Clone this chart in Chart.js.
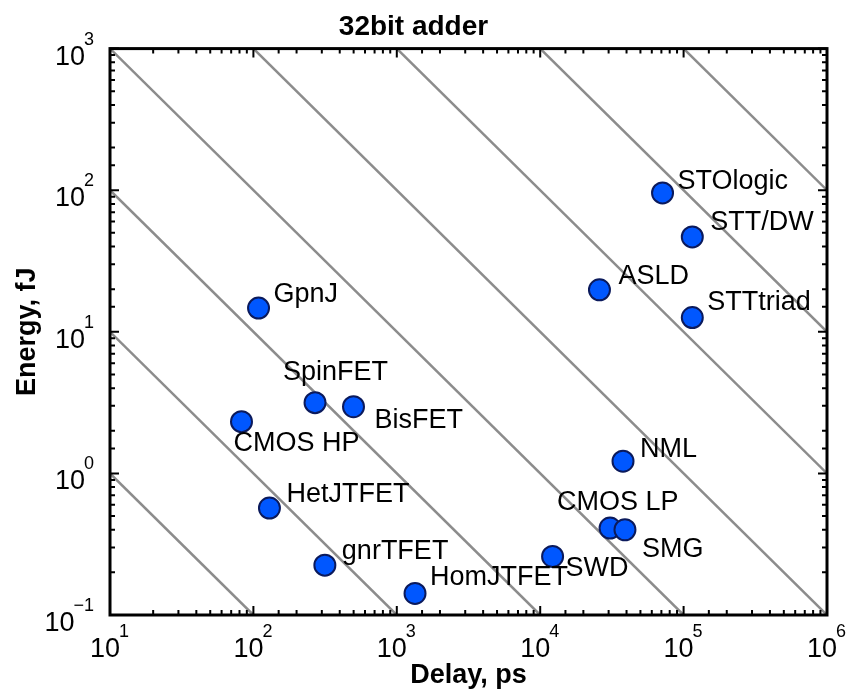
<!DOCTYPE html>
<html>
<head>
<meta charset="utf-8">
<script src="https://cdn.jsdelivr.net/npm/chart.js@4"></script>
<style>
  body { margin: 0; background: #fff; }
</style>
</head>
<body>
<canvas id="chart" width="848" height="689"></canvas>
<script>
// Dados: dispositivos, atraso (ps) e energia (fJ)
const deviceNames = ['STOlogic', 'STT/DW', 'ASLD', 'STTtriad', 'GpnJ', 'SpinFET', 'BisFET', 'CMOS HP',
                     'NML', 'HetJTFET', 'CMOS LP', 'SMG', 'gnrTFET', 'SWD', 'HomJTFET'];
const delays   = [71300, 115000, 25900, 115000, 108.6, 269, 499, 82.6,
                  37800, 129.4, 30700, 39000, 315, 12200, 1340];
const energies = [95.7, 46.8, 19.8, 12.6, 14.7, 3.16, 2.96, 2.32,
                  1.22, 0.569, 0.411, 0.40, 0.225, 0.259, 0.142];

// Produto energia x atraso das linhas diagonais (fJ*ps)
const edpLines = [10, 100, 1e3, 1e4, 1e5, 1e6, 1e7, 1e8];

// Limites dos eixos
const xRange = [10, 1e6];
const yRange = [0.1, 1000];

// Deslocamento dos rótulos (pixels) em relação ao ponto
const labelOffsets = [[15, -11], [18, -14], [19, -13], [15, -15], [15, -14], [-32, -30], [21, 14], [-8, 22],
                      [17, -12], [17, -14], [-53, -26], [17, 20], [17, -14], [13, 12], [15, -16]];

const FONT = "'Liberation Sans', Arial, sans-serif";

// Monta os datasets das linhas diagonais
const lineDatasets = edpLines.map(p => {
    const x0 = Math.max(xRange[0], p / yRange[1]);
    const x1 = Math.min(xRange[1], p / yRange[0]);
    return {
        type: 'scatter',
        showLine: true,
        data: [{x: x0, y: p / x0}, {x: x1, y: p / x1}],
        borderColor: '#8c8c8c',
        borderWidth: 2.5,
        pointRadius: 0,
        order: 2
    };
});

const pointDataset = {
    type: 'scatter',
    data: delays.map((d, i) => ({x: d, y: energies[i]})),
    backgroundColor: '#0057ff',
    borderColor: '#0b1a5c',
    borderWidth: 2,
    pointRadius: 10.5,
    order: 1
};

// Plugin: moldura, marcas internas e rótulos 10^n
const framePlugin = {
    id: 'frame',
    afterDatasetsDraw(chart) {
        const ctx = chart.ctx;
        const a = chart.chartArea;
        const xs = chart.scales.x, ys = chart.scales.y;
        const isMajor = v => Math.abs(Math.log10(v) - Math.round(Math.log10(v))) < 1e-9;

        ctx.save();
        ctx.strokeStyle = '#000';
        ctx.lineWidth = 2;
        xs.ticks.forEach(t => {
            const px = xs.getPixelForValue(t.value);
            const len = isMajor(t.value) ? 9 : 5;
            ctx.beginPath();
            ctx.moveTo(px, a.bottom); ctx.lineTo(px, a.bottom - len);
            ctx.moveTo(px, a.top); ctx.lineTo(px, a.top + len);
            ctx.stroke();
        });
        ys.ticks.forEach(t => {
            const py = ys.getPixelForValue(t.value);
            const len = isMajor(t.value) ? 9 : 5;
            ctx.beginPath();
            ctx.moveTo(a.left, py); ctx.lineTo(a.left + len, py);
            ctx.moveTo(a.right, py); ctx.lineTo(a.right - len, py);
            ctx.stroke();
        });
        ctx.lineWidth = 3;
        ctx.strokeRect(a.left, a.top, a.right - a.left, a.bottom - a.top);

        // rótulos dos eixos com expoente
        ctx.fillStyle = '#000';
        ctx.textBaseline = 'alphabetic';
        ctx.textAlign = 'left';
        const drawPow = (v, x, y, align) => {
            const exp = String(Math.round(Math.log10(v))).replace('-', '\u2212');
            ctx.font = '27px ' + FONT;
            const w1 = ctx.measureText('10').width;
            ctx.font = '18px ' + FONT;
            const w2 = ctx.measureText(exp).width;
            const sx = align === 'center' ? x - (w1 + w2) / 2 : x - (w1 + w2);
            ctx.font = '27px ' + FONT;
            ctx.fillText('10', sx, y);
            ctx.font = '18px ' + FONT;
            ctx.fillText(exp, sx + w1 - 1, y - 20);
        };
        xs.ticks.filter(t => isMajor(t.value)).forEach(t => {
            drawPow(t.value, xs.getPixelForValue(t.value), a.bottom + 42, 'center');
        });
        ys.ticks.filter(t => isMajor(t.value)).forEach(t => {
            drawPow(t.value, a.left - 15, ys.getPixelForValue(t.value) + 16, 'right');
        });

        // nomes dos dispositivos
        const meta = chart.getDatasetMeta(chart.data.datasets.length - 1);
        ctx.font = '27px ' + FONT;
        ctx.textBaseline = 'middle';
        meta.data.forEach((pt, i) => {
            ctx.fillText(deviceNames[i], pt.x + labelOffsets[i][0], pt.y + labelOffsets[i][1]);
        });
        ctx.restore();
    }
};

new Chart(document.getElementById('chart'), {
    type: 'scatter',
    data: { datasets: [...lineDatasets, pointDataset] },
    options: {
        responsive: false,
        animation: false,
        devicePixelRatio: 1,
        layout: { padding: { top: 0, right: 21, bottom: 0, left: 0 } },
        plugins: {
            legend: { display: false },
            tooltip: { enabled: false },
            title: {
                display: true,
                text: '32bit adder',
                color: '#000',
                font: { family: FONT, size: 28, weight: 'bold', lineHeight: 1.2 },
                padding: { top: 10, bottom: 5 }
            }
        },
        scales: {
            x: {
                type: 'logarithmic',
                min: xRange[0],
                max: xRange[1],
                grid: { display: false, drawTicks: false },
                border: { display: false },
                ticks: { display: false, autoSkip: false },
                title: {
                    display: true,
                    text: 'Delay, ps',
                    color: '#000',
                    font: { family: FONT, size: 27, weight: 'bold', lineHeight: 1 },
                    padding: { top: 0, bottom: 0 }
                },
                afterFit: s => { s.height = 74; }
            },
            y: {
                type: 'logarithmic',
                min: yRange[0],
                max: yRange[1],
                grid: { display: false, drawTicks: false },
                border: { display: false },
                ticks: { display: false, autoSkip: false },
                title: {
                    display: true,
                    text: 'Energy, fJ',
                    color: '#000',
                    font: { family: FONT, size: 27, weight: 'bold', lineHeight: 1 },
                    padding: { top: 14, bottom: 0 }
                },
                afterFit: s => { s.width = 110; }
            }
        }
    },
    plugins: [framePlugin]
});
</script>
</body>
</html>
